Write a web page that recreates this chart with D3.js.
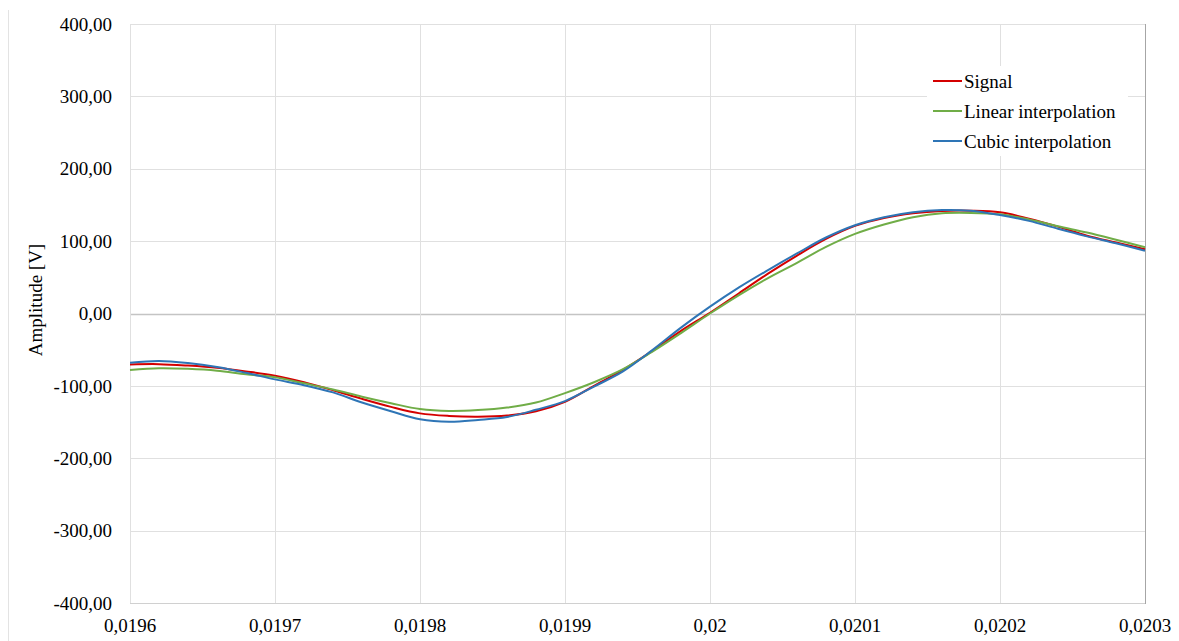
<!DOCTYPE html>
<html>
<head>
<meta charset="utf-8">
<script src="https://cdn.jsdelivr.net/npm/d3@7"></script>
<style>
  body { margin: 0; background: #fff; }
  svg text { font-family: "Liberation Serif", "Times New Roman", Times, "DejaVu Serif", serif; font-size: 19px; fill: #000; }
</style>
</head>
<body>
<div class="render"></div>
<script>
"use strict";

// time axis, one sample every 0.00002 s
var times = d3.range(36).map(function (i) { return +(0.0196 + i * 0.00002).toFixed(5); });

var signal = [-70.4, -70, -72, -75, -80, -86, -95, -106, -118, -129, -138, -141.5, -142.5, -141, -135, -122,
   -100, -78, -52, -24, 1, 28, 55, 80, 103, 121, 132, 138.5, 141.7, 142, 139.8, 131, 120, 107.5, 98, 88.7];
var linear = [-78, -75.7, -76.5, -79, -84, -88, -96.5, -105, -115, -124, -132, -134.7, -133.5, -130, -123, -110,
   -95, -77, -53, -27, 0, 25.5, 49, 70, 92, 110, 123, 133, 138.5, 139, 137, 130, 120.5, 112, 102, 91.5];
var cubic = [-68, -65.6, -68.5, -74, -82, -91, -99, -109, -123, -135, -146, -149.5, -147, -143, -133, -121,
   -101, -80, -51, -19.5, 9.4, 36, 60, 83, 105, 122, 133, 140, 143, 142, 136, 128, 117, 106.6, 97, 86.8];

var seriesNames = ["Signal", "Linear interpolation", "Cubic interpolation"];
var seriesColors = ["#d40000", "#70ad47", "#2e75b6"];

var xTicks = [0.0196, 0.0197, 0.0198, 0.0199, 0.02, 0.0201, 0.0202, 0.0203];
var yTicks = [-400, -300, -200, -100, 0, 100, 200, 300, 400];

var w = 1179;
var h = 641;
var padL = 130, padR = 1145, padT = 24, padB = 603;

var loc = d3.formatLocale({ decimal: ",", thousands: ".", grouping: [3], currency: ["", ""], minus: "-" });
var fy = loc.format(".2f");
var fx = loc.format(".4~f");

var x = d3.scaleLinear().domain([0.0196, 0.0203]).range([padL, padR]);
var y = d3.scaleLinear().domain([-400, 400]).range([padB, padT]);

var svg = d3.select(".render").append("svg").attr("width", w).attr("height", h)
   .attr("font-family", "Liberation Serif, serif");

// faint chart frame line on the left
svg.append("line").attr("x1", 8.5).attr("x2", 8.5).attr("y1", 10).attr("y2", h).attr("stroke", "#e3e3e3");

// gridlines
svg.append("g").selectAll("line").data(yTicks).enter().append("line")
   .attr("x1", padL).attr("x2", padR)
   .attr("y1", function (d) { return Math.round(y(d)) + 0.5; })
   .attr("y2", function (d) { return Math.round(y(d)) + 0.5; })
   .attr("stroke", function (d) { return d === 0 ? "#c4c4c4" : "#e0e0e0"; })
   .attr("stroke-width", function (d) { return d === 0 ? 1.5 : 1; });

svg.append("g").selectAll("line").data(xTicks.slice(0, -1)).enter().append("line")
   .attr("x1", function (d) { return Math.round(x(d)) + 0.5; })
   .attr("x2", function (d) { return Math.round(x(d)) + 0.5; })
   .attr("y1", padT).attr("y2", padB)
   .attr("stroke", "#e0e0e0");

// bottom and right borders
svg.append("line").attr("x1", padL).attr("x2", padR).attr("y1", padB + 0.5).attr("y2", padB + 0.5).attr("stroke", "#d0d0d0");
svg.append("line").attr("x1", padR + 0.5).attr("x2", padR + 0.5).attr("y1", padT).attr("y2", padB + 1).attr("stroke", "#a6a6a6");

// tick labels
svg.append("g").selectAll("text").data(yTicks).enter().append("text")
   .attr("x", 112).attr("y", function (d) { return y(d); }).attr("dy", "0.35em")
   .attr("text-anchor", "end").text(function (d) { return fy(d); });

svg.append("g").selectAll("text").data(xTicks).enter().append("text")
   .attr("x", function (d) { return x(d); }).attr("y", 632)
   .attr("text-anchor", "middle").text(function (d) { return fx(d); });

svg.append("text").text("Amplitude [V]")
   .attr("text-anchor", "middle")
   .attr("transform", "translate(42,300)rotate(-90)");

// series
var line = d3.line()
   .x(function (d, i) { return x(times[i]); })
   .y(function (d) { return y(d); })
   .curve(d3.curveCatmullRom.alpha(0.5));

[signal, linear, cubic].forEach(function (s, k) {
   svg.append("path").datum(s).attr("d", line)
      .attr("fill", "none").attr("stroke", seriesColors[k]).attr("stroke-width", 2);
});

// legend
var lg = svg.append("g").attr("transform", "translate(927,66)");
lg.append("rect").attr("width", 201).attr("height", 90).attr("fill", "#fff");
seriesNames.forEach(function (n, k) {
   var yy = 15 + k * 30;
   lg.append("line").attr("x1", 6).attr("x2", 35).attr("y1", yy).attr("y2", yy)
      .attr("stroke", seriesColors[k]).attr("stroke-width", 2);
   lg.append("text").attr("x", 37).attr("y", yy).attr("dy", "0.35em").text(n);
});
</script>
</body>
</html>
